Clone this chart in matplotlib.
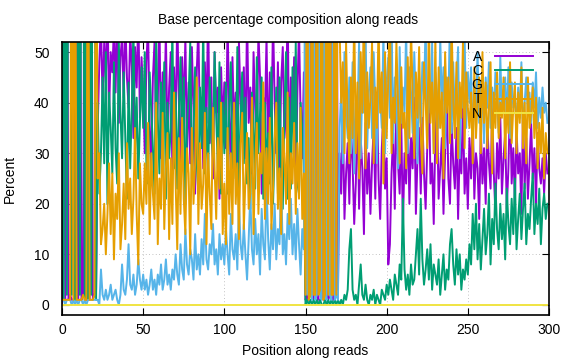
import matplotlib
matplotlib.use("Agg")
import matplotlib.pyplot as plt

plt.rcParams['font.family'] = ['Liberation Sans', 'DejaVu Sans']

positions = list(range(0, 300))

A = [0, 97, 1, 96, 1, 2, 1, 1, 2, 97, 1, 96, 1, 2, 97, 1, 1, 1, 96, 1, 2, 3,
     35, 48, 56, 40, 52, 44, 60, 38, 50, 46, 55, 42, 58, 36, 49, 53, 41, 57, 45, 39, 54, 47, 33, 51, 43, 58, 37, 49,
     42, 30, 48, 55, 36, 27, 45, 52, 33, 40, 58, 29, 46, 38, 54, 31, 43, 50, 26, 47,
     35, 57, 40, 24, 49, 37, 53, 30, 44, 28, 51, 39, 22, 46, 55, 34, 41, 27, 48, 36,
     59, 32, 45, 25, 50, 38, 43, 21, 47, 35,
     44, 31, 56, 38, 27, 49, 35, 42, 24, 52, 40, 33, 47, 29, 58, 36, 43, 26, 50, 39,
     31, 54, 45, 22, 41, 37, 53, 28, 46, 34, 57, 40, 30, 48, 25, 44, 51, 33, 38, 60,
     27, 45, 35, 49, 23, 42, 55, 37, 29, 46,
     1, 2, 1, 95, 2, 1, 96, 2, 1, 94, 2, 1, 95, 3, 1, 2, 96, 1, 2, 95, 3,
     30, 22, 38, 17, 26, 32, 20, 35, 28, 16, 24, 40, 19, 33, 27, 14, 36, 22, 30, 18,
     28, 35, 21, 42, 25, 17, 31, 38, 23, 29, 8, 12, 26, 34, 19, 40, 28, 22, 36, 15,
     30, 24, 38, 20, 33, 27, 41, 18, 29, 35, 22, 37, 26, 19, 31, 44, 24, 28, 16, 34,
     39, 21, 27, 33, 18, 30, 42, 25, 20, 36, 28, 23, 35, 17, 31, 26, 40, 22, 29, 19,
     33, 25, 38, 21, 30, 27, 17, 35, 24, 31, 20, 36, 28, 23, 39, 26, 18, 32, 25, 37,
     22, 29, 34, 19, 27, 41, 24, 31, 20, 35, 26, 30, 18, 38, 23, 33, 21, 28, 36, 25,
     31, 20, 34, 27, 24, 29, 22, 30, 26]

C = [98, 1, 98, 2, 97, 96, 2, 97, 1, 1, 98, 2, 97, 96, 1, 98, 1, 97, 2, 97, 95, 1,
     40, 22, 30, 45, 28, 50, 20, 42, 35, 26, 48, 31, 24, 52, 38, 29, 46, 33, 21, 44, 27, 39, 55, 30, 41, 25, 36, 47,
     35, 50, 28, 24, 46, 39, 31, 22, 53, 37, 26, 44, 33, 48, 21, 40, 29, 35, 55, 27,
     42, 23, 38, 49, 30, 45, 20, 36, 41, 52, 25, 34, 47, 28, 22, 43, 31, 56, 26, 39,
     24, 45, 33, 29, 50, 37, 27, 48, 22, 40,
     30, 44, 22, 39, 48, 27, 35, 25, 51, 20, 37, 46, 28, 41, 24, 33, 19, 42, 36, 23,
     49, 30, 38, 45, 21, 40, 27, 34, 24, 47, 20, 31, 43, 22, 45, 26, 19, 38, 50, 21,
     41, 23, 47, 28, 52, 24, 22, 40, 35, 27,
     0, 1, 0, 1, 0, 1, 0, 1, 0, 1, 0, 0, 1, 0, 1, 0, 1, 0, 1, 0, 1,
     0, 1, 0, 2, 1, 3, 11, 15, 3, 1, 2, 0, 4, 8, 2, 1, 4, 1, 0, 2,
     1, 3, 0, 2, 1, 0, 3, 2, 1, 4, 2, 5, 3, 1, 6, 4, 2, 8, 5, 21,
     7, 3, 6, 2, 8, 4, 5, 10, 15, 6, 21, 9, 4, 7, 11, 5, 12, 3, 8, 6,
     4, 9, 2, 6, 10, 3, 7, 5, 12, 15, 8, 4, 11, 6, 10, 3, 7, 5, 9, 6,
     12, 8, 18, 11, 20, 9, 16, 7, 13, 19, 10, 14, 22, 8, 17, 12, 24, 15, 11, 20,
     13, 18, 9, 23, 16, 12, 21, 14, 25, 11, 17, 22, 13, 19, 24, 12, 18, 15, 21, 26,
     14, 20, 16, 23, 12, 19, 22, 17, 20]

G = [1, 1, 0, 1, 1, 1, 0, 1, 0, 1, 0, 1, 1, 0, 1, 0, 1, 1, 1, 1, 1, 1,
     1, 0, 7, 2, 1, 3, 1, 2, 4, 1, 2, 3, 1, 0, 2, 8, 3, 2, 5, 12, 4, 3, 6, 2, 4, 9, 5, 3,
     6, 3, 5, 2, 4, 7, 3, 5, 2, 6, 4, 8, 3, 5, 9, 4, 6, 3, 7, 5,
     10, 6, 4, 12, 7, 5, 15, 8, 6, 11, 9, 5, 14, 7, 10, 6, 13, 8, 18, 9,
     7, 12, 10, 16, 8, 11, 6, 14, 9, 12,
     8, 15, 10, 6, 18, 11, 9, 14, 7, 20, 12, 9, 16, 10, 5, 13, 22, 11, 8, 17,
     10, 14, 6, 19, 12, 9, 24, 13, 7, 16, 11, 20, 9, 15, 12, 25, 10, 14, 8, 18,
     13, 21, 10, 16, 9, 19, 12, 6, 15, 11,
     96, 2, 97, 2, 1, 95, 1, 2, 96, 2, 1, 97, 2, 1, 95, 2, 1, 96, 1, 2, 1,
     35, 42, 28, 50, 38, 33, 45, 30, 48, 26, 40, 36, 52, 29, 44, 38, 55, 31, 42, 47,
     33, 50, 39, 28, 46, 41, 35, 54, 30, 44, 49, 37, 58, 32, 45, 40, 27, 51, 36, 43,
     38, 55, 30, 47, 42, 34, 50, 39, 28, 45, 36, 48, 41, 56, 33, 44, 38, 52, 30, 46,
     42, 35, 53, 39, 47, 31, 45, 40, 57, 34, 48, 37, 44, 51, 29, 43, 39, 54, 35, 46,
     40, 47, 33, 42, 38, 50, 36, 44, 41, 32, 45, 39, 48, 35, 43, 37, 46, 40, 34, 49,
     38, 42, 45, 36, 47, 33, 44, 39, 41, 35, 43, 37, 48, 34, 40, 45, 38, 42, 36, 44,
     39, 46, 35, 41, 37, 43, 38, 40, 36]

T = [1, 1, 1, 1, 1, 1, 97, 1, 97, 1, 1, 1, 1, 2, 1, 1, 97, 1, 1, 1, 2, 95,
     25, 30, 12, 15, 20, 10, 18, 28, 14, 26, 9, 22, 17, 30, 11, 16, 24, 13, 32, 19, 25, 14, 21, 35, 18, 8, 28, 20,
     18, 28, 20, 36, 14, 30, 22, 17, 40, 12, 25, 19, 38, 15, 27, 34, 13, 29, 16, 42,
     24, 11, 33, 18, 37, 21, 14, 31, 26, 10, 35, 20, 28, 45, 16, 32, 19, 24, 38, 12,
     30, 22, 15, 39, 27, 17, 33, 23, 40, 14,
     24, 12, 35, 18, 30, 16, 40, 20, 28, 13, 32, 38, 15, 25, 34, 19, 22, 41, 14, 28,
     36, 18, 30, 26, 44, 17, 31, 20, 37, 15, 23, 33, 40, 19, 27, 14, 35, 29, 20, 42,
     16, 30, 24, 36, 18, 32, 21, 39, 17, 26,
     2, 97, 1, 2, 96, 2, 2, 95, 2, 3, 96, 1, 2, 95, 2, 95, 2, 2, 96, 2, 95,
     55, 40, 48, 30, 52, 36, 28, 45, 33, 58, 30, 44, 25, 50, 38, 60, 27, 46, 35, 41,
     52, 28, 43, 35, 56, 38, 46, 24, 50, 33, 45, 58, 30, 41, 36, 52, 40, 28, 47, 35,
     38, 27, 49, 33, 55, 42, 29, 46, 37, 51, 34, 26, 48, 40, 31, 57, 36, 44, 30, 53,
     28, 47, 35, 42, 25, 50, 38, 45, 32, 56, 40, 33, 48, 29, 44, 37, 52, 31, 46, 39,
     35, 42, 28, 47, 33, 40, 45, 30, 50, 36, 44, 31, 39, 48, 26, 42, 35, 46, 33, 40,
     37, 45, 29, 41, 34, 48, 32, 39, 44, 30, 42, 36, 47, 31, 40, 28, 45, 35, 38, 43,
     33, 41, 27, 36, 30, 39, 25, 34, 30]

N = [0] * 300

series_labels = ['A', 'C', 'G', 'T', 'N']
series_colors = ['#9400d3', '#009e73', '#56b4e9', '#e69f00', '#f0e442']

fig = plt.figure(figsize=(5.76, 3.6), dpi=100)
ax = fig.add_axes([62/576, 1 - 315/360, (549 - 62)/576, (315 - 42)/360])

for vals, lab, col in zip([A, C, G, T, N], series_labels, series_colors):
    ax.plot(positions, vals, color=col, lw=1.4, label=lab, zorder=3)

ax.set_xlim(0, 300)
ax.set_ylim(-2, 52)
ax.set_xticks(range(0, 301, 50))
ax.set_yticks(range(0, 51, 10))
ax.tick_params(direction='in', top=True, right=True, labelsize=10, length=5, width=0.8)
ax.tick_params(axis='y', pad=9)
ax.tick_params(axis='x', pad=6)
ax.grid(True, color='#b0b0b0', linestyle=(0, (1, 3)), linewidth=0.6, zorder=0)
for s in ax.spines.values():
    s.set_linewidth(1.2)
    s.set_zorder(10)

ax.set_xlabel('Position along reads', fontsize=10, labelpad=5)
ax.set_ylabel('Percent', fontsize=10, labelpad=12)
fig.text(0.5, 1 - 20/360, 'Base percentage composition along reads', ha='center', va='center', fontsize=10)

leg = ax.legend(loc='upper right', frameon=False, markerfirst=False, fontsize=10,
                handlelength=2.8, handletextpad=0.9, labelspacing=0.02,
                bbox_to_anchor=(1 - 10/487, 1 - 2/273), borderaxespad=0)
leg.set_zorder(6)

fig.savefig('out.png', dpi=100)
